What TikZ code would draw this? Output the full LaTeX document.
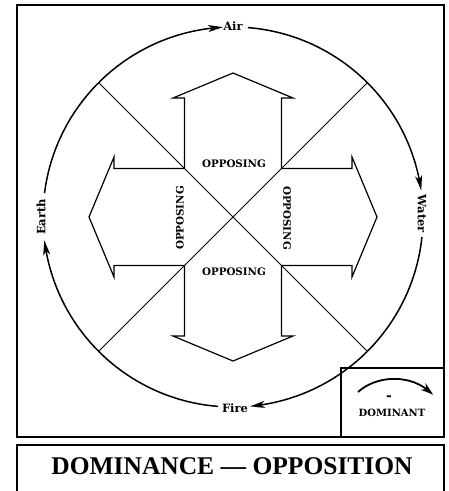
\documentclass[tikz,border=0pt]{standalone}
\usepackage{fontspec}
\setmainfont{Liberation Serif}
\newfontfamily\lblfont{DejaVu Serif}
\usetikzlibrary{arrows.meta,bending,calc}
\tikzset{
  frameline/.style={line width=1.9pt},
  boxline/.style={line width=1.4pt},
  ringline/.style={line width=1.5pt},
  diagline/.style={line width=0.9pt},
  crossline/.style={line width=1.2pt, line join=miter},
  ringarrow/.style={ringline, -{Stealth[length=15pt,width=7pt,inset=4pt,bend]}},
  elemlabel/.style={font=\lblfont\bfseries\fontsize{11.5}{11.5}\selectfont, inner sep=0pt},
  opplabel/.style={font=\lblfont\bfseries\fontsize{10.3}{10.3}\selectfont, inner sep=0pt},
  legendlabel/.style={font=\lblfont\bfseries\fontsize{10}{10}\selectfont, inner sep=0pt},
  titlelabel/.style={font=\bfseries\fontsize{25.5}{25.5}\selectfont, inner sep=0pt}
}
\begin{document}
\begin{tikzpicture}[x=1pt,y=-1pt]
\useasboundingbox (0,0) rectangle (449,491);
\coordinate (c) at (233,217);
\def\R{190}
% frames
\draw[frameline] (17,5) rectangle (444,437);
\draw[boxline] (341,437) |- (444,368);
\draw[boxline] (17,495) |- (444,445) -- (444,495);
% diagonals
\draw[diagline] ($(c)+(135:\R)$) -- ($(c)+(-45:\R)$);
\draw[diagline] ($(c)+(45:\R)$) -- ($(c)+(-135:\R)$);
% cross of four arrows
\def\h{48.5}\def\s{119}\def\b{60}\def\t{144}
\draw[crossline]
  ($(c)+(-\h,-\h)$) -- ($(c)+(-\h,-\s)$) -- ($(c)+(-\b,-\s)$) -- ($(c)+(0,-\t)$)
  -- ($(c)+(\b,-\s)$) -- ($(c)+(\h,-\s)$) -- ($(c)+(\h,-\h)$)
  -- ($(c)+(\s,-\h)$) -- ($(c)+(\s,-\b)$) -- ($(c)+(\t,0)$)
  -- ($(c)+(\s,\b)$) -- ($(c)+(\s,\h)$) -- ($(c)+(\h,\h)$)
  -- ($(c)+(\h,\s)$) -- ($(c)+(\b,\s)$) -- ($(c)+(0,\t)$)
  -- ($(c)+(-\b,\s)$) -- ($(c)+(-\h,\s)$) -- ($(c)+(-\h,\h)$)
  -- ($(c)+(-\s,\h)$) -- ($(c)+(-\s,\b)$) -- ($(c)+(-\t,0)$)
  -- ($(c)+(-\s,-\b)$) -- ($(c)+(-\s,-\h)$) -- cycle;
% opposing labels
\node[opplabel] (oppN) at (234,164) {OPPOSING};
\node[opplabel] (oppS) at (234,272) {OPPOSING};
\node[opplabel, rotate=90] (oppW) at (180,218) {OPPOSING};
\node[opplabel, rotate=-90] (oppE) at (287,218) {OPPOSING};
% element labels
\node[elemlabel] (air) at (233,26) {Air};
\node[elemlabel, rotate=-90] (water) at (422,214) {Water};
\node[elemlabel] (fire) at (235,408) {Fire};
\node[elemlabel, rotate=90] (earth) at (41,217) {Earth};
% ring arcs (clockwise on the page; y axis points down, so angles are negated)
\draw[ringarrow] ($(c)+(-85.5:\R)$) arc[start angle=-85.5, end angle=-8, radius=\R];
\draw[ringarrow] ($(c)+(6:\R)$) arc[start angle=6, end angle=84.9, radius=\R];
\draw[ringarrow] ($(c)+(94.5:\R)$) arc[start angle=94.5, end angle=173, radius=\R];
\draw[ringarrow] ($(c)+(-172.8:\R)$) arc[start angle=-172.8, end angle=-93, radius=\R];
% legend
\coordinate (l1) at (358,392);
\coordinate (l2) at (433,395);
\draw[line width=1.8pt, -{Stealth[length=13pt,width=8pt,inset=4pt,bend]}] (l1) .. controls (378,374) and (414,374) .. (l2);
\node[legendlabel, font=\lblfont\bfseries\fontsize{14}{14}\selectfont] (dash) at (389,398) {-};
\node[legendlabel] (dom) at (392,413) {DOMINANT};
% title
\node[titlelabel] (title) at (232,466) {DOMINANCE — OPPOSITION};
\end{tikzpicture}
\end{document}
